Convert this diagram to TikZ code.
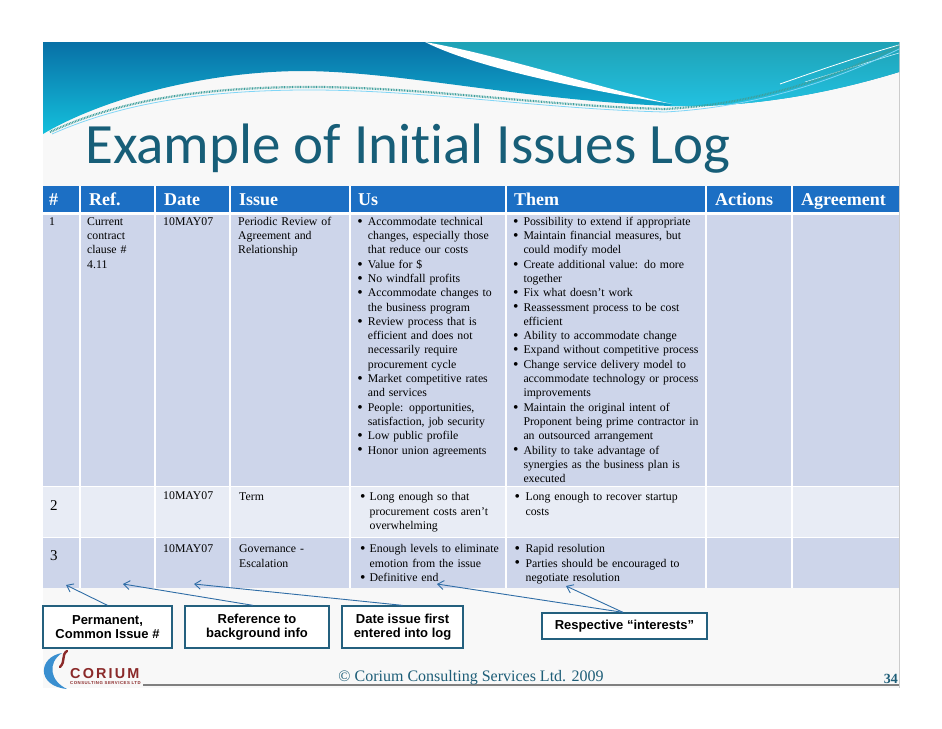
\documentclass[tikz,border=0pt]{standalone}
\usepackage{fontspec}
\setmainfont{Liberation Serif}
\newfontfamily\titlefont[Ligatures={NoCommon}]{Carlito}
\newfontfamily\boxfont{Liberation Sans}
\newfontfamily\logofont[LetterSpace=15]{Liberation Sans}
\newfontfamily\logosmall[LetterSpace=12]{Liberation Sans}
\usetikzlibrary{arrows.meta}
\definecolor{hdrblue}{HTML}{1C6FC4}
\definecolor{rowA}{HTML}{CDD5EA}
\definecolor{rowB}{HTML}{E8ECF5}
\definecolor{slidebg}{HTML}{F8F8F8}
\definecolor{titleteal}{HTML}{175E78}
\definecolor{boxedge}{HTML}{24607E}
\definecolor{arrowblue}{HTML}{2F6DA6}
\definecolor{footteal}{HTML}{1E5E78}
\definecolor{corred}{HTML}{8B2A2A}
\definecolor{logoblue}{HTML}{3A8FD0}
\definecolor{bandtop}{HTML}{0870A6}
\definecolor{bandbot}{HTML}{14C0DC}
\definecolor{bandrtop}{HTML}{1FA2B6}
\definecolor{bandrmid}{HTML}{0A93D2}
\definecolor{bandrbot}{HTML}{22C2E2}
\definecolor{dotteal}{HTML}{3E9F9C}
\newcommand{\cf}{\fontsize{11.8}{14.3}\selectfont}
\newlength{\bind}
\newcommand{\bigbul}{\raisebox{-0.9pt}{\fontsize{15.5}{14}\selectfont\textbullet}}
\newcommand{\bitem}[1]{\noindent\hangindent=\bind\hangafter=1\strut\makebox[\bind][l]{\bigbul}#1\par}
\newcommand{\calloutfont}{\boxfont\bfseries\fontsize{13}{14}\selectfont}
\begin{document}
\begin{tikzpicture}[x=1pt,y=-1pt,
  cellt/.style={anchor=north west, inner sep=0pt, text width=#1, align=left, font=\cf},
  hdr/.style={anchor=base west, inner sep=0pt, text=white, font=\bfseries\fontsize{18}{20}\selectfont},
  bignum/.style={anchor=base west, inner sep=0pt, font=\fontsize{15}{17}\selectfont},
  callout/.style={draw=boxedge, line width=1.3pt, fill=white, inner sep=0pt, align=center, font=\calloutfont},
  callarrow/.style={draw=arrowblue, line width=0.9pt, -{Straight Barb[length=6pt,width=9pt]}}]
\useasboundingbox (0,0) rectangle (942,728);
\fill[white] (0,0) rectangle (942,728);
\fill[slidebg] (43,42) rectangle (899,688);
\draw[black!20, line width=0.8pt] (899,42) -- (899,688);
% banner
\shade[top color=bandtop, bottom color=bandbot] (43,42) -- (899,42) -- (899,72) .. controls (840,90) and (760,108) .. (670,106) .. controls (520,100) and (400,71) .. (300,71) .. controls (200,72) and (100,100) .. (43,134) -- cycle;
\shade[top color=bandrtop, middle color=bandrmid, bottom color=bandrbot] (425,42) -- (899,42) -- (899,72) .. controls (840,90) and (760,108) .. (670,106) -- (672,104) .. controls (600,88) and (500,55) .. (425,42) -- cycle;
\fill[white] (425,42) .. controls (500,55) and (600,88) .. (672,104) .. controls (600,92) and (480,70) .. (425,42) -- cycle;
\draw[white, line width=0.8pt] (899,45) .. controls (860,56) and (820,70) .. (780,84);
\draw[white!80!cyan, line width=0.6pt] (899,53) .. controls (865,63) and (835,73) .. (805,82);
\draw[cyan!50!white, line width=0.8pt] (52,134) .. controls (122,103) and (202,91) .. (300,90) .. controls (420,89) and (540,109) .. (665,112) .. controls (760,107) and (840,78) .. (899,49);
\draw[dotteal, line width=2.2pt, dash pattern=on 0.8pt off 0.8pt] (50,132) .. controls (120,100) and (200,88) .. (300,87) .. controls (420,86) and (540,106) .. (665,109) .. controls (760,104) and (840,75) .. (899,46);
% title
\node[anchor=base west, inner sep=0pt, text=titleteal, font=\titlefont\fontsize{57}{60}\selectfont] (title) at (85,163) {Example of Initial Issues Log};
% table
\foreach \xa/\xb in {43/80,80/155,155/230,230/350,350/506,506/706,706/792,792/899} {
  \fill[hdrblue] (\xa,186) rectangle (\xb,213);
  \fill[rowA] (\xa,213) rectangle (\xb,486.5);
  \fill[rowB] (\xa,486.5) rectangle (\xb,537.5);
  \fill[rowA] (\xa,537.5) rectangle (\xb,588);
}
\foreach \xx in {80,155,230,350,506,706,792} {
  \draw[white, line width=1.6pt] (\xx,186) -- (\xx,588);
}
\draw[white, line width=3pt] (43,213.3) -- (899,213.3);
\draw[white, line width=1.8pt] (43,486.5) -- (899,486.5);
\draw[white, line width=1.8pt] (43,537.5) -- (899,537.5);
% header
\node[hdr] (hnum) at (49,205.5) {\#};
\node[hdr] (href) at (89,205.5) {Ref.};
\node[hdr] (hdate) at (164,205.5) {Date};
\node[hdr] (hiss) at (239,205.5) {Issue};
\node[hdr] (hus) at (358,205.5) {Us};
\node[hdr] (hthem) at (514,205.5) {Them};
\node[hdr] (hact) at (715,205.5) {Actions};
\node[hdr] (hagr) at (801,205.5) {Agreement};
% row 1
\node[cellt=30pt] (n1) at (49,215) {\strut 1};
\node[cellt=70pt] (r1ref) at (87,215) {\strut Current\\contract\\clause \#\\4.11};
\node[cellt=70pt] (r1date) at (163,215) {\strut 10MAY07};
\node[cellt=115pt] (r1iss) at (238,215) {\strut Periodic Review of\\Agreement and\\Relationship};
\node[cellt=150pt] (r1us) at (357.2,215) {\setlength{\bind}{10.5pt}%
\bitem{Accommodate technical\newline changes, especially those\newline that reduce our costs}%
\bitem{Value for \$}%
\bitem{No windfall profits}%
\bitem{Accommodate changes to\newline the business program}%
\bitem{Review process that is\newline efficient and does not\newline necessarily require\newline procurement cycle}%
\bitem{Market competitive rates\newline and services}%
\bitem{People: opportunities,\newline satisfaction, job security}%
\bitem{Low public profile}%
\bitem{Honor union agreements}};
\node[cellt=192pt] (r1them) at (513,215) {\setlength{\bind}{10.3pt}%
\bitem{Possibility to extend if appropriate}%
\bitem{Maintain financial measures, but\newline could modify model}%
\bitem{Create additional value: do more\newline together}%
\bitem{Fix what doesn’t work}%
\bitem{Reassessment process to be cost\newline efficient}%
\bitem{Ability to accommodate change}%
\bitem{Expand without competitive process}%
\bitem{Change service delivery model to\newline accommodate technology or process\newline improvements}%
\bitem{Maintain the original intent of\newline Proponent being prime contractor in\newline an outsourced arrangement}%
\bitem{Ability to take advantage of\newline synergies as the business plan is\newline executed}};
% row 2
\node[bignum] (n2) at (50,510) {2};
\node[cellt=70pt] (r2date) at (163,489.5) {\strut 10MAY07};
\node[cellt=110pt] (r2iss) at (239,490.5) {\strut Term};
\node[cellt=150pt] (r2us) at (360,490.5) {\setlength{\bind}{9.5pt}%
\bitem{Long enough so that\newline procurement costs aren’t\newline overwhelming}};
\node[cellt=190pt] (r2them) at (514.4,490.5) {\setlength{\bind}{11pt}%
\bitem{Long enough to recover startup\newline costs}};
% row 3
\node[bignum] (n3) at (50,560) {3};
\node[cellt=70pt] (r3date) at (163,542.5) {\strut 10MAY07};
\node[cellt=110pt] (r3iss) at (239,542.5) {\strut Governance -\\Escalation};
\node[cellt=150pt] (r3us) at (360,542.5) {\setlength{\bind}{9.5pt}%
\bitem{Enough levels to eliminate\newline emotion from the issue}%
\bitem{Definitive end}};
\node[cellt=190pt] (r3them) at (514.4,542.5) {\setlength{\bind}{11pt}%
\bitem{Rapid resolution}%
\bitem{Parties should be encouraged to\newline negotiate resolution}};
% callouts
\node[callout, minimum width=129pt, minimum height=42pt] (b1) at (107.5,627) {Permanent,\\Common Issue \#};
\node[callout, minimum width=144pt, minimum height=42pt] (b2) at (257,627) {Reference to\\background info};
\node[callout, minimum width=121pt, minimum height=42pt] (b3) at (402.5,627) {Date issue first\\entered into log};
\node[callout, minimum width=165pt, minimum height=26pt] (b4) at (624.5,626) {Respective “interests”};
\coordinate (t1) at (66,585);
\coordinate (t2) at (123,584);
\coordinate (t3) at (194,584);
\coordinate (t4) at (437,584);
\coordinate (t5) at (566,586);
\draw[callarrow] (b1.north) -- (t1);
\draw[callarrow] ([xshift=-4pt]b2.north) -- (t2);
\draw[callarrow] (b3.north) -- (t3);
\draw[callarrow] ([xshift=-1.5pt]b4.north) -- (t4);
\draw[callarrow] ([xshift=-1.5pt]b4.north) -- (t5);
% footer
\draw[black!50, line width=1.2pt] (143,685) -- (899,685);
\node[anchor=base, inner sep=0pt, text=footteal, font=\fontsize{16}{18}\selectfont] (copy) at (471,681) {© Corium Consulting Services Ltd. 2009};
\node[anchor=base east, inner sep=0pt, text=footteal, font=\bfseries\fontsize{14}{16}\selectfont] (pg) at (898,683) {34};
% logo
\fill[logoblue] (62,653) .. controls (38,657) and (36,686) .. (67,689) .. controls (50,681) and (47,663) .. (62,653) -- cycle;
\draw[corred, line width=2.4pt, line cap=round] (67,651) .. controls (61,655) and (66,661) .. (60,667);
\node[anchor=base west, inner sep=0pt, text=corred, font=\logofont\bfseries\fontsize{14.4}{16}\selectfont] (corium) at (70,678) {CORIUM};
\node[anchor=base west, inner sep=0pt, text=corred, font=\logosmall\bfseries\fontsize{4.3}{5}\selectfont] (corsub) at (70,684.5) {CONSULTING SERVICES LTD};
\end{tikzpicture}
\end{document}
